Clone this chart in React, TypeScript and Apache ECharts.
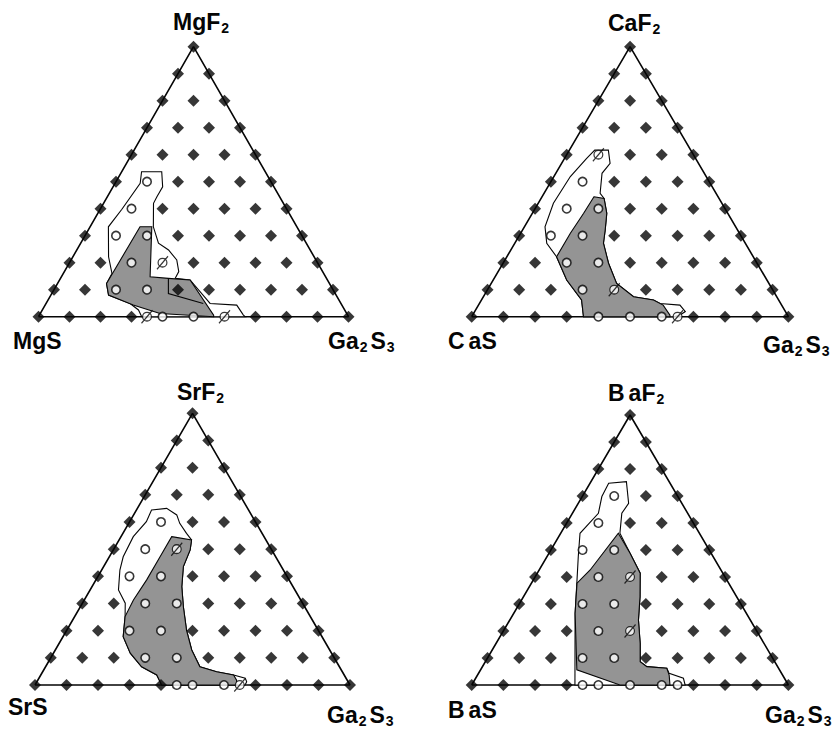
import React, { useEffect, useRef } from 'react';
import * as echarts from 'echarts';

// Composition grid levels (mol %)
const LEVELS = [0, 10, 20, 30, 40, 50, 60, 70, 80, 90, 100];

// Corner compositions as [Ga2S3 %, MF2 %]: MS, MF2, Ga2S3, back to MS
const VERTICES = [[0, 0], [0, 100], [100, 0], [0, 0]];

// Labels (rich-text tokens mimic the original spacing)
const TOP_TEXT = ['{m|MgF}', '{m|CaF}', '{m|SrF}', '{m|B}{g|aF}'];
const LEFT_TEXT = ['{m|MgS}', '{m|C}{g|aS}', '{m|SrS}', '{m|B}{g|aS}'];

// Open (white) sample points [Ga2S3 %, MF2 %]
const MG_OPEN = [[40, 0], [50, 0], [20, 10], [30, 10], [20, 20], [10, 30], [20, 30], [10, 40], [10, 50]];
const CA_OPEN = [[40, 0], [50, 0], [60, 0], [30, 10], [20, 20], [30, 20], [10, 30], [20, 30], [10, 40], [20, 40], [10, 50]];
const SR_OPEN = [[45, 0], [50, 0], [60, 0], [30, 10], [40, 10], [20, 20], [30, 20], [20, 30], [30, 30], [10, 40], [20, 40], [10, 50], [10, 60]];
const BA_OPEN = [[35, 0], [40, 0], [50, 0], [60, 0], [65, 0], [30, 10], [40, 10], [30, 20], [20, 30], [30, 30], [20, 40], [10, 50], [20, 50], [10, 60], [10, 70]];

// Crossed-circle sample points
const MG_SLASH = [[35, 0], [60, 0], [30, 20]];
const CA_SLASH = [[65, 0], [40, 10], [10, 60]];
const SR_SLASH = [[65, 0], [20, 50]];
const BA_SLASH = [[40, 20], [30, 40]];

// Region outlines (outer, white) [Ga2S3 %, MF2 %]
const MG_OUTER = [[6.4, 53.7], [12.9, 53.7], [16.0, 48.1], [16.0, 44.4], [16.1, 42.0], [20.4, 33.3], [25.1, 27.2], [29.6, 24.7], [34.1, 21.0], [36.9, 16.7], [37.0, 14.2], [42.1, 13.6], [52.9, 4.9], [61.8, 4.3], [65.8, 0.6], [66.7, 0], [33.3, 0], [31.0, 2.5], [27.1, 4.9], [18.6, 8.0], [15.8, 12.3], [15.7, 16.0], [11.5, 22.2], [5.9, 33.3], [7.0, 39.8], [8.1, 49.4]];
const CA_OUTER = [[8.0, 61.7], [12.3, 61.7], [15.3, 56.8], [14.6, 53.1], [17.7, 45.7], [19.9, 43.8], [23.5, 38.3], [26.1, 32.1], [28.0, 27.2], [33.3, 19.8], [39.6, 12.3], [47.4, 7.4], [54.3, 6.2], [57.0, 4.9], [63.6, 4.3], [66.5, 1.9], [65.5, 0.6], [63.7, 0], [35.3, 0], [31.6, 6.2], [23.2, 13.6], [15.7, 22.2], [10.1, 27.2], [6.5, 33.3], [4.8, 42.0], [5.2, 51.9], [7.0, 58.6]];
const SR_OUTER = [[4.8, 64.4], [9.3, 65.0], [13.7, 62.6], [16.2, 59.5], [20.2, 55.8], [23.0, 53.4], [24.4, 49.7], [25.3, 43.6], [28.5, 36.2], [32.7, 28.8], [38.0, 20.2], [43.3, 12.9], [49.0, 6.7], [55.2, 4.9], [61.2, 3.7], [65.5, 2.5], [66.6, 1.2], [66.7, 0], [40.2, 0], [36.8, 3.7], [30.5, 6.7], [24.4, 11.7], [19.1, 17.8], [16.0, 25.2], [13.6, 30.1], [9.0, 35.0], [5.8, 42.3], [4.4, 47.2], [3.9, 54.6], [5.3, 60.1]];
const BA_OUTER = [[5.9, 74.7], [11.2, 75.3], [15.9, 67.3], [15.6, 63.6], [18.7, 56.2], [25.6, 48.8], [32.5, 41.4], [36.8, 32.7], [40.6, 24.1], [45.5, 15.4], [48.9, 8.6], [51.9, 6.8], [58.5, 6.2], [60.2, 4.3], [65.6, 2.5], [67.4, 0], [32.6, 0], [19.4, 26.5], [13.8, 38.9], [9.9, 47.5], [6.1, 56.2], [8.2, 63.6], [6.2, 69.8]];

// Shaded (grey) regions
const MG_GRAY = [[16.1, 33.3], [19.9, 33.3], [28.6, 14.8], [34.8, 14.2], [42.1, 13.6], [56.2, 0.6], [56.5, 0], [38.6, 1.2], [28.4, 4.3], [18.6, 8.0], [15.8, 12.3]];
const CA_GRAY = [[16.4, 44.4], [19.9, 43.8], [23.5, 38.3], [26.1, 32.1], [28.0, 27.2], [33.3, 19.8], [39.6, 12.3], [47.4, 7.4], [54.3, 6.2], [58.3, 4.3], [62.3, 0.6], [62.6, 0], [35.3, 0], [31.6, 6.2], [23.2, 13.6], [15.7, 22.2], [15.7, 30.9], [16.2, 38.3]];
const SR_GRAY = [[16.1, 54.6], [23.0, 53.4], [24.4, 49.7], [25.3, 43.6], [28.5, 36.2], [32.7, 28.8], [38.0, 20.2], [43.3, 12.9], [49.0, 6.7], [55.2, 4.9], [61.2, 3.7], [63.1, 1.8], [64.0, 0], [40.2, 0], [36.8, 3.7], [30.5, 6.7], [24.4, 11.7], [19.1, 17.8], [16.0, 25.2], [15.6, 31.3], [16.1, 38.7], [16.1, 47.2]];
const BA_GRAY = [[18.2, 56.2], [25.6, 48.8], [32.5, 41.4], [36.8, 32.7], [40.6, 24.1], [45.5, 15.4], [48.9, 8.6], [51.9, 6.8], [58.5, 6.2], [60.5, 3.7], [62.6, 0], [46.8, 0], [30.4, 5.6], [19.4, 26.5], [14.4, 37.7], [16.1, 42.6]];

// Internal boundary inside the MgS grey field
const MG_INNER = [[34.8, 14.2], [37.6, 8.6], [50.7, 4.9]];

const OPEN = [MG_OPEN, CA_OPEN, SR_OPEN, BA_OPEN];
const SLASH = [MG_SLASH, CA_SLASH, SR_SLASH, BA_SLASH];
const OUTER = [MG_OUTER, CA_OUTER, SR_OUTER, BA_OUTER];
const GRAY = [MG_GRAY, CA_GRAY, SR_GRAY, BA_GRAY];
const INNER = [MG_INNER, null, null, null];

// Layout (pixels)
const GRIDS = [
  { left: 38.5, top: 46.7, width: 310, height: 270 },
  { left: 471.7, top: 46.7, width: 316.7, height: 270 },
  { left: 35, top: 413.3, width: 315, height: 271.7 },
  { left: 471.7, top: 415, width: 316.7, height: 270 },
];
const TOP_POS = [[173, 21.5], [608, 23.4], [177, 392.4], [608, 393]];
const LEFT_POS = [[13, 340.7], [448, 341.4], [8, 707.4], [448, 710.4]];
const RIGHT_POS = [[328, 340.7], [763, 345], [327, 715.4], [765, 715.4]];

const FONT = '"Liberation Sans", Arial, Helvetica, sans-serif';
const INK = '#050505';
const GREY = '#949494';
const SLASH_SYMBOL = 'path://M2,6a4,4 0 1,0 8,0a4,4 0 1,0 -8,0ZM1,12L11,0';

const toPlane = (p: number[]) => [p[0] + p[1] / 2, p[1]];
const key = (p: number[]) => p[0] + '_' + p[1];

const RICH = {
  m: { fontSize: 23, fontWeight: 'bold', fontFamily: FONT, lineHeight: 26, fill: INK, color: INK },
  g: { fontSize: 23, fontWeight: 'bold', fontFamily: FONT, lineHeight: 26, padding: [0, 0, 0, 4], fill: INK, color: INK },
  s: { fontSize: 14, fontWeight: 'bold', fontFamily: FONT, padding: [12, 0, 0, 1], fill: INK, color: INK },
  t: { fontSize: 23, fontWeight: 'bold', fontFamily: FONT, lineHeight: 26, padding: [0, 0, 0, 3], fill: INK, color: INK },
};

function label(text: string, x: number, y: number) {
  return {
    type: 'text',
    x,
    y,
    silent: true,
    style: {
      text,
      rich: RICH,
      align: 'left',
      verticalAlign: 'middle',
      textAlign: 'left',
      textVerticalAlign: 'middle',
      fill: INK,
    },
  };
}

function buildOption() {
  const lattice: number[][] = [];
  LEVELS.forEach((f) => LEVELS.forEach((g) => { if (g + f <= 100) lattice.push([g, f]); }));

  const series: any[] = [];
  const graphic: any[] = [];

  GRIDS.forEach((_, k) => {
    const special = new Set([...OPEN[k], ...SLASH[k]].map(key));
    const filled = lattice.filter((p) => !special.has(key(p)));

    series.push({
      type: 'line', xAxisIndex: k, yAxisIndex: k, silent: true, clip: false, z: 1,
      data: VERTICES.map(toPlane), symbol: 'none',
      lineStyle: { color: INK, width: 1.6 },
    });

    const poly = (pts: number[][], fill: string, z: number) => ({
      type: 'custom', xAxisIndex: k, yAxisIndex: k, coordinateSystem: 'cartesian2d',
      silent: true, clip: false, z, data: [[0, 0]],
      renderItem: (_p: any, api: any) => ({
        type: 'polygon',
        shape: { points: pts.map((p) => api.coord(toPlane(p))) },
        style: { fill, stroke: INK, lineWidth: 1.1 },
      }),
    });
    series.push(poly(OUTER[k], '#ffffff', 2));
    series.push(poly(GRAY[k], GREY, 3));

    const inner = INNER[k];
    if (inner) {
      series.push({
        type: 'custom', xAxisIndex: k, yAxisIndex: k, coordinateSystem: 'cartesian2d',
        silent: true, clip: false, z: 4, data: [[0, 0]],
        renderItem: (_p: any, api: any) => ({
          type: 'polyline',
          shape: { points: inner.map((p) => api.coord(toPlane(p))) },
          style: { fill: 'none', stroke: INK, lineWidth: 1.1 },
        }),
      });
    }

    series.push({
      type: 'scatter', xAxisIndex: k, yAxisIndex: k, silent: true, clip: false, z: 5,
      data: filled.map(toPlane), symbol: 'diamond', symbolSize: 12,
      itemStyle: { color: INK },
    });
    series.push({
      type: 'scatter', xAxisIndex: k, yAxisIndex: k, silent: true, clip: false, z: 6,
      data: OPEN[k].map(toPlane), symbol: 'circle', symbolSize: 8.5,
      itemStyle: { color: '#ffffff', borderColor: INK, borderWidth: 1.6 },
    });
    series.push({
      type: 'scatter', xAxisIndex: k, yAxisIndex: k, silent: true, clip: false, z: 6,
      data: SLASH[k].map(toPlane), symbol: SLASH_SYMBOL, symbolSize: [11, 13],
      itemStyle: { color: '#ffffff', borderColor: INK, borderWidth: 1.3 },
    });

    graphic.push(label(`${TOP_TEXT[k]}{s|2}`, TOP_POS[k][0], TOP_POS[k][1]));
    graphic.push(label(LEFT_TEXT[k], LEFT_POS[k][0], LEFT_POS[k][1]));
    graphic.push(label('{m|Ga}{s|2}{t|S}{s|3}', RIGHT_POS[k][0], RIGHT_POS[k][1]));
  });

  return {
    animation: false,
    backgroundColor: '#ffffff',
    grid: GRIDS.map((g) => ({ ...g, containLabel: false })),
    xAxis: GRIDS.map((_, k) => ({ type: 'value', gridIndex: k, min: 0, max: 100, show: false })),
    yAxis: GRIDS.map((_, k) => ({ type: 'value', gridIndex: k, min: 0, max: 100, show: false })),
    series,
    graphic,
  };
}

export default function App() {
  const ref = useRef<HTMLDivElement>(null);
  useEffect(() => {
    if (!ref.current) return;
    const chart = echarts.init(ref.current, undefined, { renderer: 'svg' });
    chart.setOption(buildOption() as any);
    return () => chart.dispose();
  }, []);
  return (
    <div
      ref={ref}
      style={{ position: 'fixed', left: 0, top: 0, width: 833, height: 729, background: '#fff' }}
    />
  );
}
